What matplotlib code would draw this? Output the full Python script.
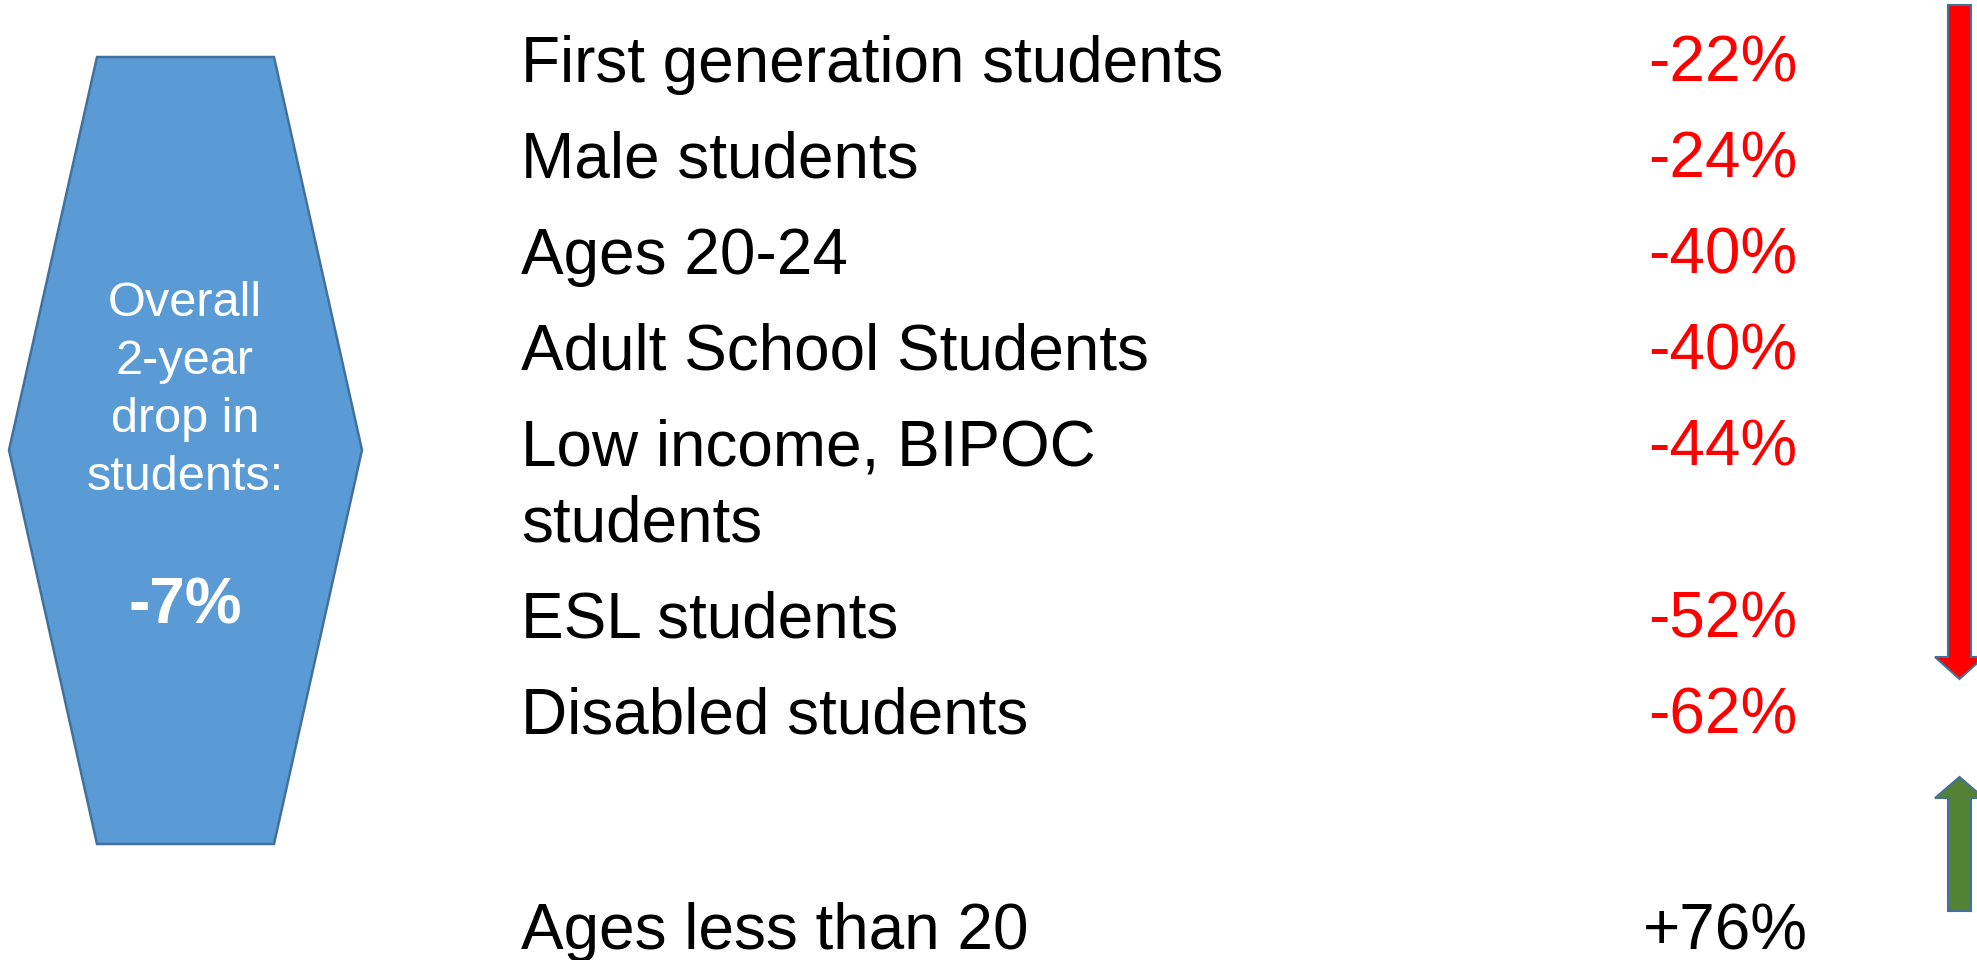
import matplotlib.pyplot as plt
from matplotlib.patches import Polygon

# groups that shrank over the two years
decline_groups = ['First generation students', 'Male students', 'Ages 20-24',
                  'Adult School Students', 'Low income, BIPOC\nstudents',
                  'ESL students', 'Disabled students']
decline_values = ['-22%', '-24%', '-40%', '-40%', '-44%', '-52%', '-62%']

# groups that grew
gain_groups = ['Ages less than 20']
gain_values = ['+76%']

overall_lines = ['Overall', '2-year', 'drop in', 'students:']
overall_value = '-7%'

plt.rcParams['font.family'] = ['Liberation Sans', 'DejaVu Sans']

fig = plt.figure(figsize=(19.77, 9.6), dpi=100)
ax = fig.add_axes([0, 0, 1, 1])
ax.set_xlim(0, 1977)
ax.set_ylim(960, 0)
ax.axis('off')

# hexagon on the left
hexagon = Polygon([(97, 57), (274, 57), (362, 450), (274, 844), (97, 844), (9, 450)],
                  closed=True, facecolor='#5B9BD5', edgecolor='#41719C', lw=1.8)
ax.add_patch(hexagon)
y = 316
for line in overall_lines:
    ax.text(185, y, line, color='white', fontsize=35, ha='center', va='baseline')
    y += 58
ax.text(185, 624, overall_value, color='white', fontsize=46, fontweight='bold',
        ha='center', va='baseline')

# the list
row_pitch = 96
line_pitch = 75
y = 82
for label, val in zip(decline_groups, decline_values):
    lines = label.split('\n')
    for i, line in enumerate(lines):
        ax.text(521, y + i * line_pitch, line, fontsize=46, color='black', va='baseline')
    ax.text(1648, y, val, fontsize=46, color='#FF0000', va='baseline')
    y += row_pitch + line_pitch * (len(lines) - 1)

y = 949
for label, val in zip(gain_groups, gain_values):
    ax.text(521, y, label, fontsize=46, color='black', va='baseline')
    ax.text(1643, y, val, fontsize=46, color='black', va='baseline')
    y += row_pitch

# arrows on the right
down = Polygon([(1948, 5), (1971, 5), (1971, 657), (1984, 657), (1959.5, 679),
                (1935, 657), (1948, 657)], closed=True,
               facecolor='#FF0000', edgecolor='#41719C', lw=1.5)
up = Polygon([(1948, 911), (1971, 911), (1971, 798), (1984, 798), (1959.5, 777),
              (1935, 798), (1948, 798)], closed=True,
             facecolor='#548235', edgecolor='#41719C', lw=1.5)
ax.add_patch(down)
ax.add_patch(up)

fig.savefig('out.png', dpi=100, facecolor='white')
